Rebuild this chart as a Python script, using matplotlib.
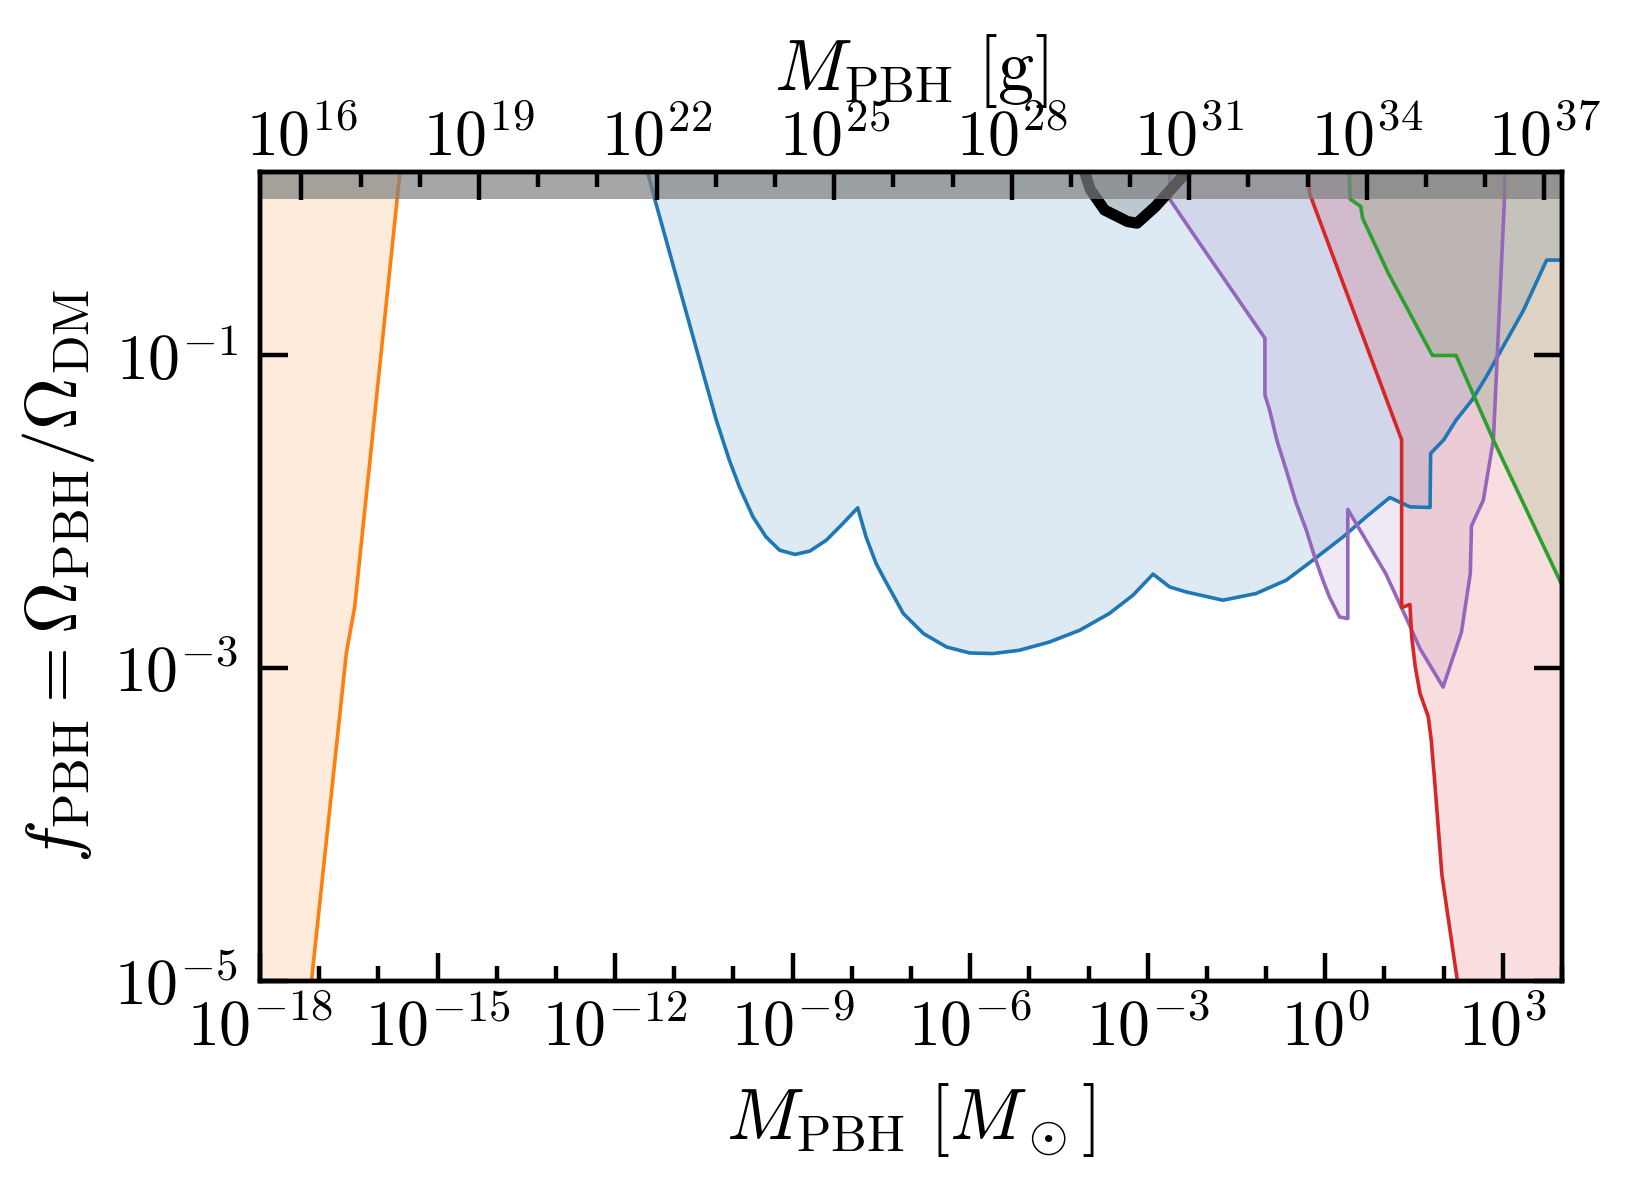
import numpy as np
import matplotlib
matplotlib.use("Agg")
import matplotlib.pyplot as plt
from matplotlib.ticker import FixedLocator, FuncFormatter, NullLocator

plt.rcParams['mathtext.fontset'] = 'cm'
plt.rcParams['font.family'] = ['DejaVu Serif']

# ---------------- data (log10 M [Msun], log10 f) ----------------
MSUN_G = 1.989e33

orange_logM = [-17.13, -16.54, -16.40, -15.60]
orange_logf = [-5.00, -2.90, -2.61, 0.30]

blue_logM = [-11.47, -11.33, -10.48, -10.29, -10.07, -9.90, -9.67, -9.45, -9.22, -8.96, -8.71,
             -8.43, -8.15, -7.90, -7.76, -7.59, -7.45, -7.13, -6.79, -6.40, -6.01, -5.62,
             -5.17, -4.66, -4.15, -3.65, -3.25, -2.91, -2.63, -2.35, -1.73, -1.17, -0.66,
             -0.21, 0.30, 0.69, 1.09, 1.43, 1.77, 1.78, 2.00, 2.21, 2.48, 2.72, 3.35, 3.74, 4.00]
blue_logf = [0.20, 0.00, -1.157, -1.413, -1.669, -1.840, -2.032, -2.160, -2.245, -2.272, -2.251,
             -2.181, -2.074, -1.974, -2.160, -2.330, -2.430, -2.650, -2.778, -2.864, -2.902, -2.906,
             -2.885, -2.832, -2.757, -2.650, -2.533, -2.398, -2.480, -2.512, -2.565, -2.522, -2.437,
             -2.309, -2.160, -2.032, -1.908, -1.968, -1.972, -1.626, -1.540, -1.413, -1.285, -1.136,
             -0.710, -0.390, -0.390]

red_logM = [-0.27, -0.27, 1.29, 1.29, 1.43, 1.46, 1.52, 1.60, 1.74, 1.79, 1.85, 1.97, 2.23, 2.26]
red_logf = [0.20, 0.04, -1.54, -2.612, -2.592, -2.80, -2.99, -3.16, -3.31, -3.46, -3.73, -4.32,
            -4.995, -5.20]

purple_logM = [-2.63, -2.63, -2.24, -1.02, -1.02, -0.94, -0.82, -0.66, -0.49, -0.32, -0.18,
               -0.04, 0.07, 0.24, 0.38, 0.38, 0.52, 1.02, 1.36, 1.60, 1.99, 2.30, 2.45, 2.47,
               2.67, 2.84, 3.03, 3.03]
purple_logf = [0.20, 0.00, -0.218, -0.89, -1.253, -1.35, -1.54, -1.733, -1.946, -2.117, -2.288,
               -2.437, -2.544, -2.672, -2.682, -1.984, -2.074, -2.394, -2.672, -2.874, -3.12, -2.77,
               -2.394, -2.09, -1.925, -1.54, 0.024, 0.20]

green_logM = [0.40, 0.42, 0.60, 0.63, 1.065, 1.81, 2.21, 2.84, 3.96, 4.00]
green_logf = [0.20, 0.00, -0.048, -0.122, -0.474, -1.00, -1.00, -1.54, -2.437, -2.47]

black_logM = [-4.09, -3.97, -3.73, -3.34, -3.18, -2.87, -2.28]
black_logf = [0.20, 0.06, -0.07, -0.144, -0.154, -0.048, 0.20]

xmin, xmax = 1e-18, 1e4
ymin, ymax = 1e-5, 1.5

def arr(a):
    return 10.0 ** np.array(a)

fig = plt.figure(figsize=(8.15, 5.915), dpi=200)
ax = fig.add_axes([0.1595, 0.1707, 0.7988, 0.6843])
ax.set_xscale('log')
ax.set_yscale('log')

lw = 1.3
a = 0.15
# orange: region left of the curve
oM, of = arr(orange_logM), arr(orange_logf)
ax.fill_betweenx(of, xmin, oM, color='C1', alpha=a, lw=0, zorder=1)
ax.plot(oM, of, color='C1', lw=lw, zorder=2)

for lm, lf, c in [(blue_logM, blue_logf, 'C0'), (purple_logM, purple_logf, 'C4'),
                  (green_logM, green_logf, 'C2')]:
    M, f = arr(lm), arr(lf)
    ax.fill_between(M, f, 10.0, color=c, alpha=a, lw=0, zorder=1)
    ax.plot(M, f, color=c, lw=lw, zorder=2)

rM, rf = arr(red_logM), arr(red_logf)
ax.fill_betweenx(rf, rM, xmax, color='C3', alpha=a, lw=0, zorder=1)
ax.plot(rM, rf, color='C3', lw=lw, zorder=2)

kM, kf = arr(black_logM), arr(black_logf)
ax.fill_between(kM, kf, 10.0, color='k', alpha=a, lw=0, zorder=1)
ax.plot(kM, kf, color='k', lw=4.0, zorder=2, solid_joinstyle='round')

# f > 1 band
ax.fill_between([xmin, xmax], 1.0, 10.0, color='gray', alpha=0.7, lw=0, zorder=3)

ax.set_xlim(xmin, xmax)
ax.set_ylim(ymin, ymax)

fmt = FuncFormatter(lambda v, p: r'$10^{%d}$' % int(round(np.log10(v))))
ax.xaxis.set_major_locator(FixedLocator([10.0 ** k for k in range(-18, 4, 3)]))
ax.xaxis.set_minor_locator(FixedLocator([10.0 ** k for k in range(-18, 5)]))
ax.xaxis.set_major_formatter(fmt)
ax.xaxis.set_minor_formatter(FuncFormatter(lambda v, p: ''))
ax.yaxis.set_major_locator(FixedLocator([1e-5, 1e-3, 1e-1]))
ax.yaxis.set_minor_locator(NullLocator())
ax.yaxis.set_major_formatter(fmt)

ax.tick_params(which='both', direction='in', top=False, bottom=True, left=True, right=True,
               width=1.6, labelsize=23)
ax.tick_params(which='major', length=10)
ax.tick_params(which='minor', length=5.5)
ax.tick_params(axis='x', pad=6)
ax.tick_params(axis='y', pad=8)
for s in ax.spines.values():
    s.set_linewidth(1.6)
    s.set_zorder(5)

# top axis in grams
ax2 = ax.twiny()
ax2.set_xscale('log')
ax2.set_xlim(xmin * MSUN_G, xmax * MSUN_G)
ax2.xaxis.set_major_locator(FixedLocator([10.0 ** k for k in range(16, 38, 3)]))
ax2.xaxis.set_minor_locator(FixedLocator([10.0 ** k for k in range(16, 38)]))
ax2.xaxis.set_major_formatter(fmt)
ax2.xaxis.set_minor_formatter(FuncFormatter(lambda v, p: ''))
ax2.tick_params(which='both', direction='in', top=True, bottom=False, width=1.6,
                labelsize=23, pad=1)
ax2.tick_params(which='major', length=10)
ax2.tick_params(which='minor', length=5.5)
for s in ax2.spines.values():
    s.set_linewidth(1.6)
ax2.set_xlabel(r'$M_{\rm PBH}\ [{\rm g}]$', fontsize=26)
ax2.xaxis.set_label_coords(0.5, 1.101)

ax.set_xlabel(r'$M_{\rm PBH}\ [M_\odot]$', fontsize=26, labelpad=8)
ax.set_ylabel(r'$f_{\rm PBH} = \Omega_{\rm PBH}/\Omega_{\rm DM}$', fontsize=26, labelpad=6)

fig.savefig('out.png', dpi=200)
